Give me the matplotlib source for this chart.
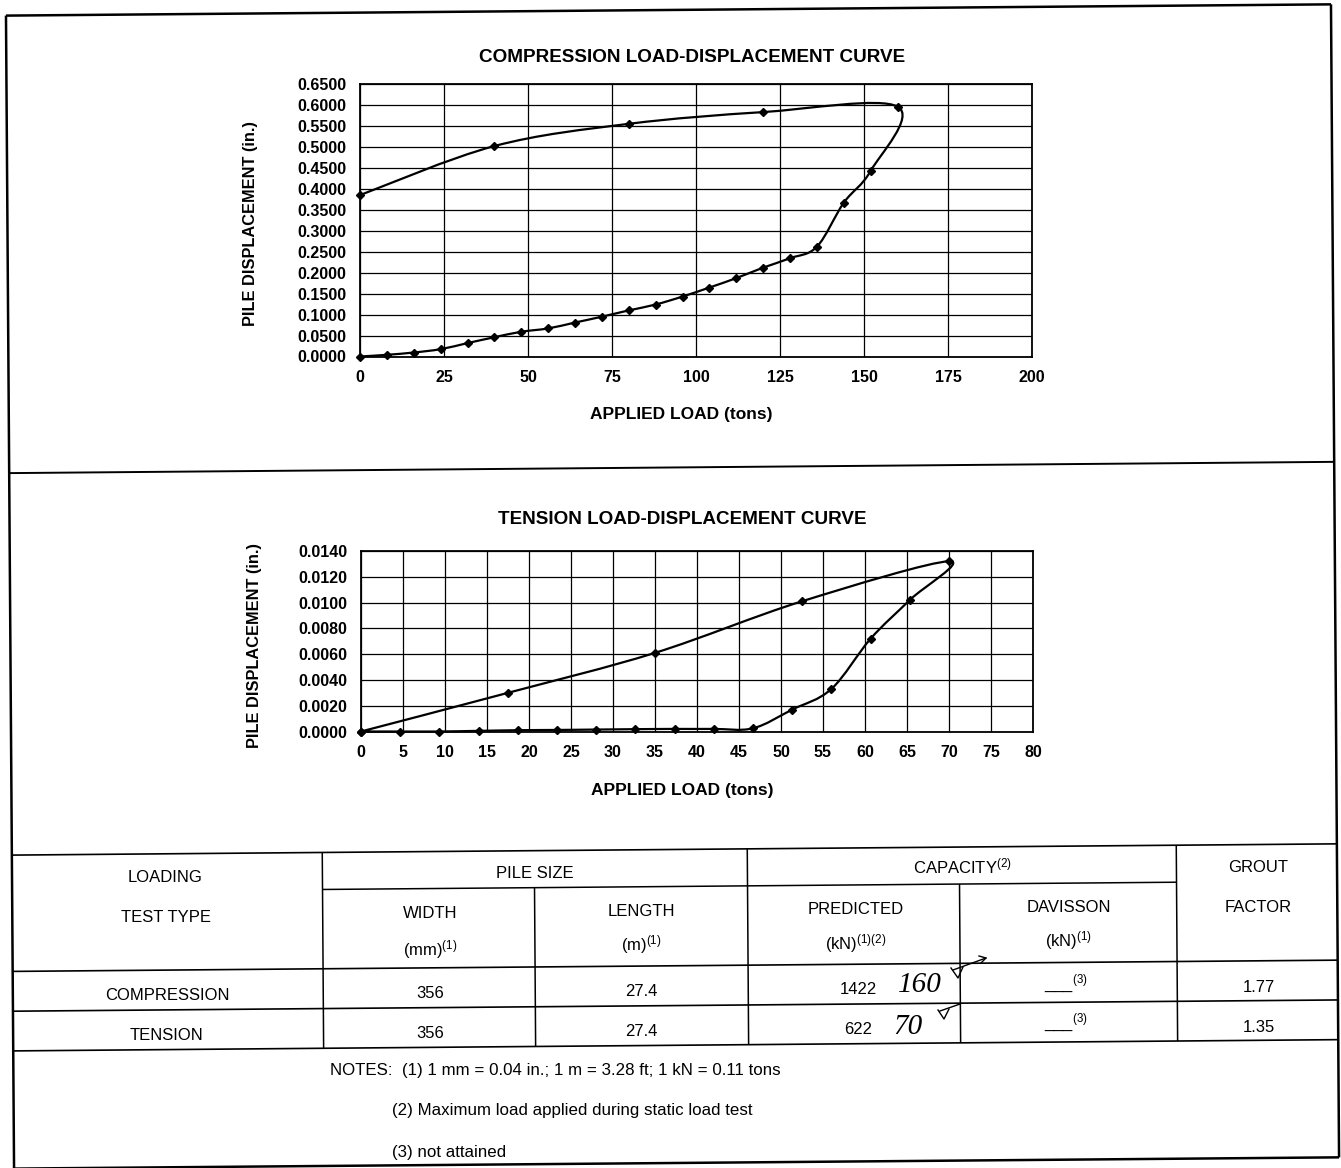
import numpy as np
import matplotlib
matplotlib.use("Agg")
import matplotlib.pyplot as plt
from matplotlib.path import Path
from matplotlib.patches import PathPatch
from matplotlib.lines import Line2D

plt.rcParams['font.family'] = ['Liberation Sans', 'DejaVu Sans']
plt.rcParams['mathtext.fontset'] = 'custom'
plt.rcParams['mathtext.rm'] = 'Liberation Sans'
plt.rcParams['mathtext.it'] = 'Liberation Sans:italic'
plt.rcParams['mathtext.bf'] = 'Liberation Sans:bold'

# ---------------- data ----------------
comp_load = [0, 8, 16, 24, 32, 40, 48, 56, 64, 72, 80, 88, 96, 104, 112, 120,
             128, 136, 144, 152, 160, 120, 80, 40, 0]
comp_disp = [0.000, 0.004, 0.0095, 0.0175, 0.032, 0.046, 0.059, 0.067, 0.081,
             0.095, 0.110, 0.124, 0.143, 0.1645, 0.187, 0.212, 0.2345, 0.262,
             0.367, 0.443, 0.596, 0.583, 0.555, 0.502, 0.385]

ten_load = [0, 4.67, 9.33, 14, 18.67, 23.33, 28, 32.67, 37.33, 42, 46.67, 51.33,
            56, 60.67, 65.33, 70, 52.5, 35, 17.5, 0]
ten_disp = [0, 0, 0, 0.00005, 0.0001, 0.00012, 0.00015, 0.00018, 0.0002, 0.0002,
            0.00025, 0.0017, 0.0033, 0.0072, 0.0102, 0.0132, 0.0101, 0.0061,
            0.0030, 0]

comp_xticks = [0, 25, 50, 75, 100, 125, 150, 175, 200]
comp_yticks = [round(0.05 * i, 2) for i in range(14)]
ten_xticks = list(range(0, 81, 5))
ten_yticks = [round(0.002 * i, 3) for i in range(8)]

table_rows = ["COMPRESSION", "TENSION"]
table_width = ["356", "356"]
table_length = ["27.4", "27.4"]
table_pred = ["1422", "622"]
table_hand = ["160", "70"]
table_grout = ["1.77", "1.35"]

notes = ["NOTES:  (1) 1 mm = 0.04 in.; 1 m = 3.28 ft; 1 kN = 0.11 tons",
         "(2) Maximum load applied during static load test",
         "(3) not attained"]

# ---------------- figure ----------------
W, H = 1341, 1168
fig = plt.figure(figsize=(W / 100, H / 100), dpi=100)
fig.patch.set_facecolor('white')


def smooth_path(xs, ys):
    P = np.column_stack([xs, ys]).astype(float)
    n = len(P)
    verts = [P[0]]
    codes = [Path.MOVETO]
    for i in range(n - 1):
        p0 = P[i - 1] if i > 0 else P[i]
        p1 = P[i]
        p2 = P[i + 1]
        p3 = P[i + 2] if i + 2 < n else P[i + 1]
        verts += [p1 + (p2 - p0) / 6.0, p2 - (p3 - p1) / 6.0, p2]
        codes += [Path.CURVE4] * 3
    return Path(verts, codes)


def make_axes(l, r, t, b, xs, ys, xticks, yticks, xlim, ylim):
    ax = fig.add_axes([l / W, 1 - b / H, (r - l) / W, (b - t) / H])
    ax.set_xlim(*xlim)
    ax.set_ylim(*ylim)
    ax.set_xticks(xticks)
    ax.set_yticks(yticks)
    ax.set_yticklabels([f"{v:.4f}" for v in yticks])
    ax.set_xticklabels([str(v) for v in xticks])
    ax.grid(True, color='black', lw=0.9)
    ax.set_axisbelow(True)
    for s in ax.spines.values():
        s.set_linewidth(1.3)
        s.set_color('black')
    ax.tick_params(length=0, labelsize=11.5, pad=10)
    for lab in ax.get_xticklabels() + ax.get_yticklabels():
        lab.set_fontweight('bold')
    ax.add_patch(PathPatch(smooth_path(xs, ys), fill=False, ec='black', lw=1.6,
                           zorder=3, clip_on=False))
    ax.plot(xs, ys, ls='none', marker='D', ms=4, color='black', zorder=4,
            clip_on=False)
    return ax


ax1 = make_axes(360, 1032, 84, 356.5, comp_load, comp_disp, comp_xticks,
                comp_yticks, (0, 200), (0, 0.65))
ax2 = make_axes(361, 1033, 551, 731.5, ten_load, ten_disp, ten_xticks,
                ten_yticks, (0, 80), (0, 0.014))


def T(x, y, s, size=12, weight='normal', ha='center', rot=0, **kw):
    fig.text(x / W, 1 - y / H, s, ha=ha, va='center', fontsize=size,
             fontweight=weight, rotation=rot, **kw)


# chart texts
T(692, 57, "COMPRESSION LOAD-DISPLACEMENT CURVE", 13.6, 'bold')
T(681, 415, "APPLIED LOAD (tons)", 12.5, 'bold')
T(250, 223, "PILE DISPLACEMENT (in.)", 11.8, 'bold', rot=90)
T(682, 520, "TENSION LOAD-DISPLACEMENT CURVE", 13.6, 'bold')
T(682, 790, "APPLIED LOAD (tons)", 12.5, 'bold')
T(255, 646, "PILE DISPLACEMENT (in.)", 11.8, 'bold', rot=90)

# ---------------- page lines (slightly skewed scan) ----------------
A_SK, B_SK = 0.007, 0.0085


def mp(x, y):
    return x + A_SK * (y - 584), y - B_SK * (x - 670)


def L(x1, y1, x2, y2, lw=1.2):
    p1 = mp(x1, y1)
    p2 = mp(x2, y2)
    fig.add_artist(Line2D([p1[0] / W, p2[0] / W], [1 - p1[1] / H, 1 - p2[1] / H],
                          transform=fig.transFigure, color='black', lw=lw,
                          solid_capstyle='butt'))


XL, XR = 10, 1335
L(XL, 10, XL, 1175, 1.8)
L(XR, 10, XR, 1163, 1.8)
L(XL, 10, XR, 10, 1.8)
L(XL, 1163, XR, 1163, 1.8)
L(XL, 467.5, XR, 467.5, 1.4)

TT, TS, TH, TR, TB = 849.5, 886.5, 965.8, 1005.6, 1045.3
C1, C2, C3, C4, C5 = 320.4, 532.4, 745.4, 957.4, 1174.4
for yy in (TT, TH, TR, TB):
    L(XL, yy, XR, yy, 1.2)
L(C1, TS, C5, TS, 1.1)
for xx in (C1, C3, C5):
    L(xx, TT, xx, TB, 1.1)
for xx in (C2, C4):
    L(xx, TS, xx, TB, 1.1)

# ---------------- table texts ----------------
T(165, 878, "LOADING")
T(166, 917, "TEST TYPE")
T(535, 874, "PILE SIZE")
T(430, 914, "WIDTH")
T(430, 950, "(mm)$^{(1)}$")
T(641, 912, "LENGTH")
T(641, 945, "(m)$^{(1)}$")
T(962, 866, "CAPACITY$^{(2)}$")
T(856, 910, "PREDICTED")
T(856, 944, "(kN)$^{(1)(2)}$")
T(1069, 908, "DAVISSON")
T(1069, 941, "(kN)$^{(1)}$")
T(1258, 868, "GROUT")
T(1258, 907, "FACTOR")

row_y = [996, 1035]
for i in range(2):
    y = row_y[i]
    T(167, y, table_rows[i])
    T(430, y - 2, table_width[i])
    T(641, y - 4, table_length[i])
    T(858, y - 6, table_pred[i])
    T(1066, y - 12, "___$^{(3)}$")
    T(1259, y - 8, table_grout[i])

T(920, 985, table_hand[0], 21, family=['Liberation Serif'], style='italic')
T(908, 1027, table_hand[1], 21, family=['Liberation Serif'], style='italic')


def P(pts, lw=1.0):
    fig.add_artist(Line2D([p[0] / W for p in pts], [1 - p[1] / H for p in pts],
                          transform=fig.transFigure, color='black', lw=lw))


# check marks
P([(951, 968), (958, 978), (963, 967)])
P([(953, 970), (986, 958)])
P([(979, 956), (986, 958), (981, 963)])
P([(938, 1010), (944, 1019), (949, 1009)])
P([(940, 1011), (960, 1004)])

T(330, 1071, notes[0], 12.2, ha='left')
T(392, 1110, notes[1], 12.2, ha='left')
T(392, 1152, notes[2], 12.2, ha='left')

fig.savefig("out.png", dpi=100, facecolor='white')
